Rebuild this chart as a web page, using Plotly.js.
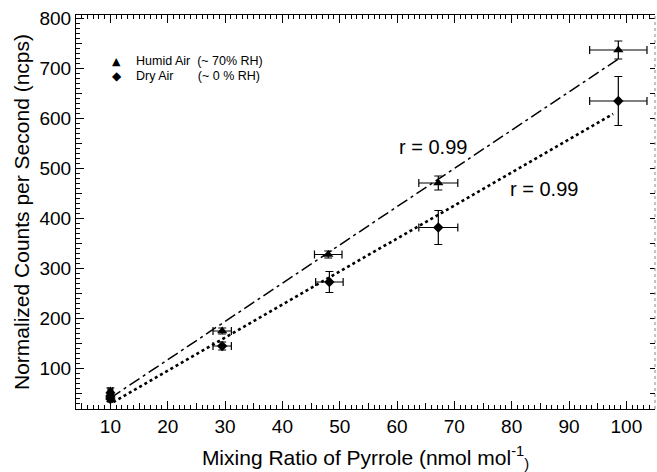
<!DOCTYPE html>
<html>
<head>
<meta charset="utf-8">
<script src="https://cdn.plot.ly/plotly-3.0.1.min.js"></script>
<style>html,body{margin:0;padding:0;background:#fff}#chart{width:657px;height:472px}</style>
</head>
<body>
<div id="chart"></div>
<script>
// Data
const humidX    = [10, 10, 29.5, 48, 67.2, 98.6];
const humidY    = [45, 54, 174, 327, 470, 736];
const humidXErr = [0.4, 0.4, 1.6, 2.4, 3.4, 5.0];
const humidYErr = [6, 6, 6, 7, 14, 18];

const dryX    = [10, 10, 29.5, 48.2, 67.2, 98.6];
const dryY    = [38, 44, 144, 272, 381, 634];
const dryXErr = [0.4, 0.4, 1.6, 2.4, 3.4, 5.0];
const dryYErr = [5, 5, 8, 21, 34, 49];

const fitX      = [10, 98.6];
const humidFitY = [40, 718];
const dryFitYX  = [10.5, 97.7];
const dryFitY   = [32, 608];

const rLabels = ["r = 0.99", "r = 0.99"];
const rX = [66.2, 85.6];
const rY = [542, 458];

const legendSymbols = ["\u25B2", "\u25C6"];
const legendLabels = ["Humid Air\u00a0\u00a0(~ 70% RH)", "Dry Air\u00a0\u00a0\u00a0\u00a0\u00a0\u00a0\u00a0(~ 0 % RH)"];

const font = "Liberation Sans, Arial, sans-serif";
const XR = [4, 105], YR = [18, 806];

const traces = [
  {
    x: fitX, y: humidFitY, mode: "lines", showlegend: false, hoverinfo: "skip",
    line: {color: "#000", width: 1.5, dash: "12px,4px,3px,4px"}
  },
  {
    x: dryFitYX, y: dryFitY, mode: "lines", showlegend: false, hoverinfo: "skip",
    line: {color: "#000", width: 2.6, dash: "dot"}
  },
  {
    x: humidX, y: humidY, mode: "markers", type: "scatter", showlegend: false,
    name: legendLabels[0],
    marker: {symbol: "triangle-up", size: 9, color: "#000"},
    error_x: {type: "data", array: humidXErr, color: "#000", thickness: 1.2, width: 4},
    error_y: {type: "data", array: humidYErr, color: "#000", thickness: 1.2, width: 4}
  },
  {
    x: dryX, y: dryY, mode: "markers", type: "scatter", showlegend: false,
    name: legendLabels[1],
    marker: {symbol: "diamond", size: 8, color: "#000"},
    error_x: {type: "data", array: dryXErr, color: "#000", thickness: 1.2, width: 4},
    error_y: {type: "data", array: dryYErr, color: "#000", thickness: 1.2, width: 4}
  }
];

// invisible helper traces so the extra tick-only axes get drawn
[["x", "y2"], ["x3", "y3"], ["x4", "y4"]].forEach(([xa, ya]) => {
  traces.push({x: [humidX[0]], y: [humidY[0]], xaxis: xa, yaxis: ya, mode: "markers",
    marker: {opacity: 0, size: 1}, showlegend: false, hoverinfo: "skip"});
});

const legendAnn = [];
legendSymbols.forEach((s, i) => {
  legendAnn.push({xref: "paper", yref: "paper", x: 0.0708, y: [0.8832, 0.8452][i],
    xanchor: "center", yanchor: "middle", text: s, showarrow: false,
    font: {size: i === 0 ? 11 : 12, family: "DejaVu Sans", color: "#000"}});
  legendAnn.push({xref: "paper", yref: "paper", x: 0.1002, y: [0.8832, 0.8452][i],
    xanchor: "left", yanchor: "middle", text: legendLabels[i], showarrow: false,
    font: {size: 12.5, family: font, color: "#000"}});
});

function tickAxis(over, side, range, dtick, len, mirror) {
  return {overlaying: over, side: side, range: range, dtick: dtick,
    showticklabels: false, ticks: "inside", ticklen: len, tickwidth: 1.3, tickcolor: "black",
    mirror: mirror, showline: false, showgrid: false};
}

const layout = {
  width: 657, height: 472,
  margin: {l: 76, r: 2, t: 15, b: 63},
  font: {family: font, color: "#000"},
  showlegend: false,
  xaxis: {
    range: XR, dtick: 10,
    ticks: "inside", ticklen: 8, tickwidth: 1.3, tickcolor: "black",
    showline: true, linecolor: "black", linewidth: 1, mirror: "ticks",
    showgrid: false,
    tickfont: {size: 19, family: font, color: "#000"},
    title: {text: "Mixing Ratio of Pyrrole (nmol mol<sup>-1</sup><sub>)</sub>", font: {size: 21, family: font, color: "#000"}, standoff: 16}
  },
  xaxis3: tickAxis("x", "bottom", XR, 1, 4, "ticks"),
  xaxis4: tickAxis("x", "bottom", XR, 5, 6, false),
  yaxis: {
    range: YR, dtick: 100,
    ticks: "inside", ticklen: 8, tickwidth: 1.3, tickcolor: "black",
    showline: true, linecolor: "black", linewidth: 1,
    showgrid: false,
    tickfont: {size: 19, family: font, color: "#000"},
    title: {text: "Normalized Counts per Second (ncps)", font: {size: 21, family: font, color: "#000"}, standoff: 4}
  },
  yaxis2: tickAxis("y", "right", YR, 50, 5, false),
  yaxis3: tickAxis("y", "left", YR, 10, 4, false),
  yaxis4: tickAxis("y", "left", YR, 50, 6, false),
  shapes: [
    {type: "line", xref: "paper", yref: "paper", x0: 1, x1: 1, y0: 0, y1: 1,
     line: {color: "#888", width: 1, dash: "dot"}}
  ],
  annotations: rLabels.map((t, i) => ({
    x: rX[i], y: rY[i], xref: "x", yref: "y", text: t, showarrow: false,
    font: {size: 20, family: font, color: "#000"}
  })).concat(legendAnn)
};

Plotly.newPlot("chart", traces, layout, {displayModeBar: false});
</script>
</body>
</html>
